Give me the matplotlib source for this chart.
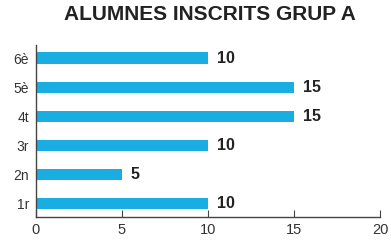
import matplotlib
matplotlib.use("Agg")
import matplotlib.pyplot as plt

plt.rcParams['font.family'] = ['Liberation Sans', 'DejaVu Sans']

categories = ["1r", "2n", "3r", "4t", "5è", "6è"]
values = [10, 5, 10, 15, 15, 10]
xticks = [0, 5, 10, 15, 20]

fig = plt.figure(figsize=(3.91, 2.48), dpi=100)
ax = fig.add_axes([0.092, 0.125, 0.88, 0.694])
ypos = list(range(len(categories)))
ax.barh(ypos, values, height=0.38, color="#1aade2")
for y, v in zip(ypos, values):
    ax.text(v + 0.5, y, str(v), va="center", ha="left", fontsize=11.5,
            fontweight="bold", color="#222222")
ax.set_xlim(0, 20)
ax.set_ylim(-0.45, 5.45)
ax.set_yticks(ypos)
ax.set_yticklabels(categories)
ax.set_xticks(xticks)
for s in ["top", "right"]:
    ax.spines[s].set_visible(False)
for s in ["left", "bottom"]:
    ax.spines[s].set_color("#444444")
    ax.spines[s].set_linewidth(1.0)
ax.tick_params(axis="y", length=0, labelsize=10, colors="#333333", pad=5)
ax.tick_params(axis="x", direction="in", length=5, labelsize=10.5,
               colors="#444444", labelcolor="#333333", pad=4)
fig.text(0.537, 0.94, "ALUMNES INSCRITS GRUP A", ha="center", va="center",
         fontsize=15, fontweight="bold", color="#222222")
fig.savefig("out.png", dpi=100)
